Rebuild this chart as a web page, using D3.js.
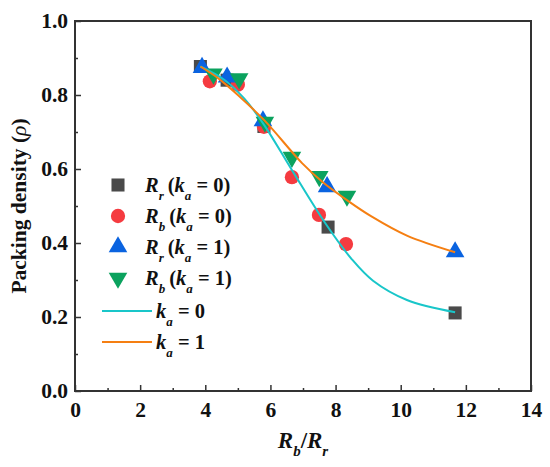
<!DOCTYPE html>
<html>
<head>
<meta charset="utf-8">
<script src="https://cdn.jsdelivr.net/npm/d3@7"></script>
<style>
  body { margin: 0; background: #fff; }
  text { font-family: "Liberation Serif", "Times New Roman", serif; font-weight: bold; fill: #111; }
</style>
</head>
<body>
<div id="chart"></div>
<script>
const WIDTH = 550;
const HEIGHT = 467;
const margin = { top: 21, right: 19, bottom: 76, left: 75 };

// measured points
const rrK0 = [[3.85, 0.877], [4.67, 0.84], [5.8, 0.715], [7.77, 0.443], [11.67, 0.211]];
const rbK0 = [[4.14, 0.837], [5.0, 0.828], [5.8, 0.714], [6.66, 0.578], [7.49, 0.476], [8.32, 0.397]];
const rrK1 = [[3.9, 0.874], [4.67, 0.848], [5.77, 0.73], [7.74, 0.552], [11.67, 0.376]];
const rbK1 = [[4.25, 0.857], [5.04, 0.844], [5.83, 0.727], [6.66, 0.632], [7.5, 0.58], [8.35, 0.527]];

// fitted curves, sampled from the figure
const fitK0 = [[3.85, 0.877], [4.6, 0.84], [5.2, 0.79], [5.8, 0.72], [6.66, 0.597], [7.68, 0.454],
    [8.5, 0.356], [9.15, 0.298], [10.19, 0.246], [11.67, 0.213]];
const fitK1 = [[3.85, 0.877], [4.4, 0.845], [5.0, 0.8], [5.83, 0.73], [6.97, 0.616], [7.6, 0.565],
    [8.38, 0.514], [9.1, 0.472], [10.19, 0.42], [11.67, 0.375]];

const xTicks = d3.range(0, 14.01, 1);
const yTicks = d3.range(0, 1.001, 0.1);

const svg = d3.select("#chart").append("svg")
    .attr("width", WIDTH)
    .attr("height", HEIGHT);

const w = WIDTH - margin.left - margin.right;
const h = HEIGHT - margin.top - margin.bottom;

const g = svg.append("g")
    .attr("transform", "translate(" + margin.left + "," + margin.top + ")");

const x = d3.scaleLinear().domain([0, 14]).range([0, w]);
const y = d3.scaleLinear().domain([0, 1]).range([h, 0]);

// frame
g.append("rect")
    .attr("width", w).attr("height", h)
    .attr("fill", "none").attr("stroke", "#333").attr("stroke-width", 2);

// axes with inward ticks
const xAxis = g.append("g")
    .attr("transform", "translate(0," + h + ")")
    .call(d3.axisBottom(x).tickValues(xTicks).tickSize(-6).tickPadding(12)
        .tickFormat(d => d % 2 === 0 ? d : ""));
xAxis.selectAll(".tick line").attr("y2", d => d % 2 === 0 ? -6 : -3);

const yAxis = g.append("g")
    .call(d3.axisLeft(y).tickValues(yTicks).tickSize(-6).tickPadding(7)
        .tickFormat(d => Math.round(d * 10) % 2 === 0 ? d3.format(".1f")(d) : ""));
yAxis.selectAll(".tick line").attr("x2", d => Math.round(d * 10) % 2 === 0 ? 6 : 3);

[xAxis, yAxis].forEach(a => {
    a.select(".domain").remove();
    a.selectAll(".tick line").attr("stroke", "#333").attr("stroke-width", 1.5);
    a.selectAll("text")
        .style("font-family", "'Liberation Serif', serif")
        .style("font-weight", "bold")
        .style("font-size", "21.5px")
        .attr("fill", "#111");
});
xAxis.selectAll("text").attr("dy", "0.66em");

// axis titles
const xt = svg.append("text")
    .attr("x", margin.left + w / 2)
    .attr("y", 448)
    .attr("text-anchor", "middle")
    .style("font-size", "23px");
xt.append("tspan").attr("font-style", "italic").text("R");
xt.append("tspan").attr("font-style", "italic").attr("baseline-shift", "sub").style("font-size", "15px").text("b");
xt.append("tspan").text("/");
xt.append("tspan").attr("font-style", "italic").text("R");
xt.append("tspan").attr("font-style", "italic").attr("baseline-shift", "sub").style("font-size", "15px").text("r");

const yt = svg.append("text")
    .attr("transform", "translate(26," + (margin.top + h / 2) + ") rotate(-90)")
    .attr("text-anchor", "middle")
    .style("font-size", "21.5px");
yt.append("tspan").text("Packing density (");
yt.append("tspan").attr("font-style", "italic").style("font-weight", "normal").text("ρ");
yt.append("tspan").text(")");

// markers
const series = [
    { data: rrK0, shape: d3.symbolSquare, size: 170, color: "#4a4a4a", rot: 0 },
    { data: rbK0, shape: d3.symbolCircle, size: 160, color: "#f53b40", rot: 0 },
    { data: rrK1, shape: d3.symbolTriangle, size: 150, color: "#0a63e0", rot: 0 },
    { data: rbK1, shape: d3.symbolTriangle, size: 150, color: "#0ba25e", rot: 180 }
];

series.forEach(s => {
    g.selectAll(null)
        .data(s.data)
        .enter().append("path")
        .attr("d", d3.symbol().type(s.shape).size(s.size))
        .attr("transform", d => "translate(" + x(d[0]) + "," + y(d[1]) + ") rotate(" + s.rot + ")")
        .attr("fill", s.color);
});

// fitted lines
const line = d3.line()
    .x(d => x(d[0]))
    .y(d => y(d[1]))
    .curve(d3.curveCatmullRom.alpha(0.5));

g.append("path").datum(fitK0).attr("d", line)
    .attr("fill", "none").attr("stroke", "#19c6c9").attr("stroke-width", 2);
g.append("path").datum(fitK1).attr("d", line)
    .attr("fill", "none").attr("stroke", "#f57f12").attr("stroke-width", 2);

// legend
const legend = svg.append("g").attr("transform", "translate(118,0)");
const legendRows = [
    { s: series[0], main: "r", k: "0", y: 185 },
    { s: series[1], main: "b", k: "0", y: 216 },
    { s: series[2], main: "r", k: "1", y: 247 },
    { s: series[3], main: "b", k: "1", y: 278 }
];

legendRows.forEach(r => {
    legend.append("path")
        .attr("d", d3.symbol().type(r.s.shape).size(r.s.size)())
        .attr("transform", "translate(0," + r.y + ") rotate(" + r.s.rot + ")")
        .attr("fill", r.s.color);
    const t = legend.append("text")
        .attr("x", 27).attr("y", r.y + 7)
        .style("font-size", "20.5px");
    t.append("tspan").attr("font-style", "italic").text("R");
    t.append("tspan").attr("font-style", "italic").attr("baseline-shift", "sub").style("font-size", "13px").text(r.main);
    t.append("tspan").attr("dx", 4).text("(");
    t.append("tspan").attr("font-style", "italic").text("k");
    t.append("tspan").attr("font-style", "italic").attr("baseline-shift", "sub").style("font-size", "13px").text("a");
    t.append("tspan").text(" = " + r.k + ")");
});

const lineRows = [
    { color: "#19c6c9", k: "0", y: 311 },
    { color: "#f57f12", k: "1", y: 342 }
];
lineRows.forEach(r => {
    legend.append("line")
        .attr("x1", -16).attr("x2", 34)
        .attr("y1", r.y).attr("y2", r.y)
        .attr("stroke", r.color).attr("stroke-width", 2);
    const t = legend.append("text")
        .attr("x", 38).attr("y", r.y + 7)
        .style("font-size", "20.5px");
    t.append("tspan").attr("font-style", "italic").text("k");
    t.append("tspan").attr("font-style", "italic").attr("baseline-shift", "sub").style("font-size", "13px").text("a");
    t.append("tspan").text(" = " + r.k);
});
</script>
</body>
</html>
